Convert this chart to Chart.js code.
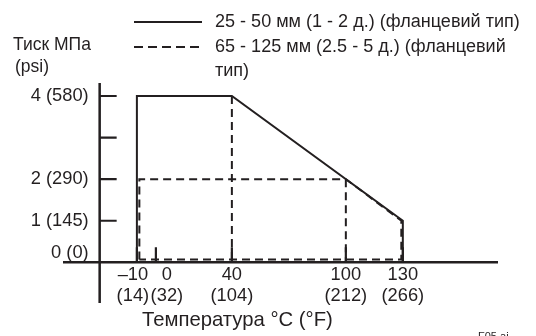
<!DOCTYPE html>
<html>
<head>
<meta charset="utf-8">
<script src="https://cdn.jsdelivr.net/npm/chart.js@4.4.0/dist/chart.umd.min.js"></script>
<style>
  html, body { margin: 0; padding: 0; background: #ffffff; }
  #wrap { width: 536px; height: 336px; overflow: hidden; }
</style>
</head>
<body>
<div id="wrap"><canvas id="c" width="536" height="336"></canvas></div>
<script>
// ---- data ----
const xTickValues = [-10, 0, 40, 100, 130];
const xTickLabelsC = ['\u201310', '0', '40', '100', '130'];
const xTickLabelsF = ['(14)', '(32)', '(104)', '(212)', '(266)'];
const yTickValues = [0, 1, 2, 3, 4];
const yTickLabels = ['0 (0)', '1 (145)', '2 (290)', '', '4 (580)'];

const seriesNames = ['25 - 50 мм (1 - 2 д.) (фланцевий тип)', '65 - 125 мм (2.5 - 5 д.) (фланцевий', 'тип)'];
const yTitle = ['Тиск МПа', '(psi)'];
const xTitle = 'Температура °C (°F)';

// solid: 25-50 mm
const solidX = [-10, -10, 40, 130, 130];
const solidY = [0, 4, 4, 1, 0];
// dashed: 65-125 mm
const dashedX = [-8.7, -8.7, 100, 129.2, 129.2, -8.7];
const dashedY = [0.07, 2, 2, 1.0, 0.07, 0.07];
// dashed drop lines
const drop40X = [40, 40];
const drop40Y = [4, 0];
const drop100X = [100, 100];
const drop100Y = [2, 0];

const xMin = -48.9, xMax = 180.1;
const yMin = -0.979, yMax = 4.313;
const yAxisAtX = -29.6;

const INK = '#231f20';
const FONT = '"Liberation Sans", Arial, Helvetica, sans-serif';

function pts(xs, ys) { return xs.map((x, i) => ({ x: x, y: ys[i] })); }
function fitSize(ctx, text, target) {
  ctx.font = '100px ' + FONT;
  return 100 * target / ctx.measureText(text).width;
}

const decor = {
  id: 'decor',
  beforeDatasetsDraw(chart) {
    const ctx = chart.ctx, xs = chart.scales.x, ys = chart.scales.y, a = chart.chartArea;
    ctx.save();
    ctx.strokeStyle = INK;
    ctx.lineWidth = 2.5;
    ctx.lineCap = 'butt';
    const x0 = xs.getPixelForValue(yAxisAtX);
    const y0 = ys.getPixelForValue(0);
    ctx.beginPath();
    ctx.moveTo(a.left, y0); ctx.lineTo(a.right, y0);
    ctx.moveTo(x0, a.top); ctx.lineTo(x0, a.bottom);
    ctx.stroke();
    ctx.lineWidth = 2.2;
    ctx.beginPath();
    yTickValues.forEach(v => {
      if (v === 0) return;
      const py = ys.getPixelForValue(v);
      ctx.moveTo(x0, py); ctx.lineTo(x0 + 17, py);
    });
    xTickValues.forEach(v => {
      const px = xs.getPixelForValue(v);
      ctx.moveTo(px, y0); ctx.lineTo(px, y0 - 15);
    });
    ctx.stroke();
    ctx.restore();
  },
  afterDatasetsDraw(chart) {
    const ctx = chart.ctx, xs = chart.scales.x, ys = chart.scales.y;
    ctx.save();
    ctx.fillStyle = INK;
    const tickSize = fitSize(ctx, '4 (580)', 58);
    const legSize = fitSize(ctx, seriesNames[0], 305);
    const yTitleSize = fitSize(ctx, yTitle[0], 78);
    const xTitleSize = fitSize(ctx, xTitle, 191);

    ctx.font = tickSize.toFixed(2) + 'px ' + FONT;
    const x0 = xs.getPixelForValue(yAxisAtX);
    ctx.textAlign = 'right';
    ctx.textBaseline = 'middle';
    yTickValues.forEach((v, i) => {
      if (!yTickLabels[i]) return;
      let py = ys.getPixelForValue(v);
      if (v === 0) py -= 9;
      ctx.fillText(yTickLabels[i], x0 - 11, py);
    });
    ctx.textAlign = 'center';
    const y0 = ys.getPixelForValue(0);
    xTickValues.forEach((v, i) => {
      let px = xs.getPixelForValue(v);
      if (v === 0) px += 11;
      if (v === -10) px -= 4;
      ctx.fillText(xTickLabelsC[i], px, y0 + 13);
      ctx.fillText(xTickLabelsF[i], px, y0 + 34);
    });
    // axis titles
    ctx.textAlign = 'left';
    ctx.font = yTitleSize.toFixed(2) + 'px ' + FONT;
    ctx.fillText(yTitle[0], 13, 45);
    ctx.fillText(yTitle[1], 15, 67);
    ctx.font = xTitleSize.toFixed(2) + 'px ' + FONT;
    ctx.fillText(xTitle, 142, 320);
    // legend
    ctx.font = legSize.toFixed(2) + 'px ' + FONT;
    ctx.strokeStyle = INK;
    ctx.lineWidth = 2;
    ctx.beginPath(); ctx.moveTo(134, 22); ctx.lineTo(202, 22); ctx.stroke();
    ctx.setLineDash([9, 5]);
    ctx.beginPath(); ctx.moveTo(134, 47); ctx.lineTo(202, 47); ctx.stroke();
    ctx.setLineDash([]);
    ctx.fillText(seriesNames[0], 215, 22);
    ctx.fillText(seriesNames[1], 215, 47);
    ctx.fillText(seriesNames[2], 215, 71);
    // file tag
    ctx.font = '11px ' + FONT;
    ctx.textBaseline = 'top';
    ctx.fillText('F05.ai', 478, 331);
    ctx.restore();
  }
};

const common = { borderColor: INK, backgroundColor: INK, borderWidth: 2, pointRadius: 0, tension: 0, fill: false, borderJoinStyle: 'miter', borderCapStyle: 'butt' };

new Chart(document.getElementById('c'), {
  type: 'line',
  data: {
    datasets: [
      Object.assign({ label: seriesNames[0], data: pts(solidX, solidY) }, common),
      Object.assign({ label: seriesNames[1] + ' ' + seriesNames[2], data: pts(dashedX, dashedY), borderDash: [8, 5] }, common),
      Object.assign({ label: 'drop40', data: pts(drop40X, drop40Y), borderDash: [8, 5] }, common),
      Object.assign({ label: 'drop100', data: pts(drop100X, drop100Y), borderDash: [8, 5] }, common)
    ]
  },
  options: {
    responsive: false,
    animation: false,
    devicePixelRatio: 1,
    layout: { padding: { left: 63, right: 38, top: 83, bottom: 33 } },
    plugins: { legend: { display: false }, tooltip: { enabled: false }, title: { display: false } },
    scales: {
      x: { type: 'linear', display: false, min: xMin, max: xMax },
      y: { type: 'linear', display: false, min: yMin, max: yMax }
    }
  },
  plugins: [decor]
});
</script>
</body>
</html>
